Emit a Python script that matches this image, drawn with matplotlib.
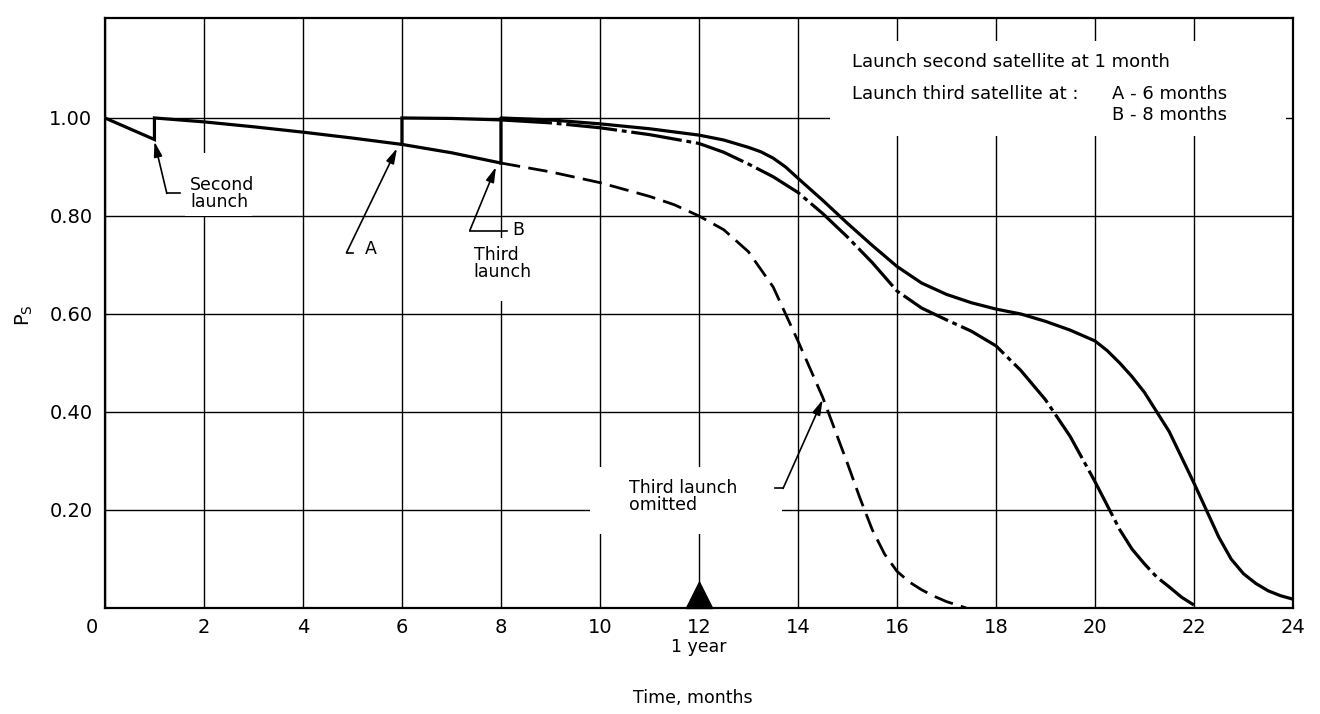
import matplotlib.pyplot as plt
from matplotlib.patches import Rectangle
from matplotlib.transforms import ScaledTranslation

plt.rcParams['font.family'] = ['DejaVu Sans']

# -----------------------------
# Values (time in months, P_S)
# -----------------------------
# one satellite, second launched at 1 month (vertical step at 1)
base_t = [0, 1, 1, 2, 3, 4, 5, 6, 7, 8]
base_p = [1.00, 0.956, 1.00, 0.992, 0.982, 0.971, 0.959, 0.946, 0.929, 0.908]

# third launch omitted
omit_t = [8, 9, 10, 11, 11.5, 12, 12.5, 13, 13.5, 14, 14.5, 15, 15.25, 15.5,
          15.75, 16, 16.25, 16.5, 16.75, 17, 17.4]
omit_p = [0.908, 0.89, 0.868, 0.84, 0.823, 0.80, 0.772, 0.727, 0.655, 0.545,
          0.43, 0.295, 0.225, 0.16, 0.11, 0.075, 0.053, 0.037, 0.024, 0.013, 0.0]

# A - third satellite at 6 months
a_t = [6, 6, 7, 8, 9, 10, 11, 12, 12.5, 13, 13.5, 14, 14.5, 15, 15.5, 16, 16.5,
       17, 17.5, 18, 18.5, 19, 19.5, 20, 20.5, 20.75, 21, 21.25, 21.5, 21.75, 22]
a_p = [0.946, 1.00, 0.999, 0.996, 0.99, 0.98, 0.966, 0.948, 0.93, 0.906, 0.88,
       0.848, 0.805, 0.757, 0.705, 0.647, 0.612, 0.588, 0.565, 0.535, 0.485,
       0.425, 0.35, 0.258, 0.16, 0.12, 0.09, 0.063, 0.043, 0.022, 0.006]

# B - third satellite at 8 months
b_t = [8, 8, 9, 10, 11, 12, 12.5, 13, 13.25, 13.5, 13.75, 14, 14.5, 15, 15.5,
       16, 16.5, 17, 17.5, 18, 18.5, 19, 19.5, 20, 20.25, 20.5, 20.75, 21, 21.5,
       22, 22.25, 22.5, 22.75, 23, 23.25, 23.5, 23.75, 24]
b_p = [0.908, 1.00, 0.996, 0.988, 0.978, 0.965, 0.955, 0.94, 0.931, 0.918, 0.9,
       0.877, 0.832, 0.785, 0.74, 0.697, 0.663, 0.64, 0.623, 0.61, 0.6, 0.585,
       0.567, 0.545, 0.525, 0.5, 0.472, 0.44, 0.36, 0.255, 0.2, 0.145, 0.1,
       0.07, 0.05, 0.035, 0.025, 0.018]

year_mark = 12
x_ticks = list(range(0, 25, 2))
y_ticks = [0.20, 0.40, 0.60, 0.80, 1.00]

# -----------------------------
# Figure
# -----------------------------
fig = plt.figure(figsize=(13.2, 7.14), dpi=100)
ax = fig.add_axes([0.0795, 0.1485, 0.9, 0.8263])
ax.set_xlim(0, 24)
ax.set_ylim(0, 1.204)

ax.set_xticks(x_ticks)
ax.set_yticks(y_ticks)
ax.set_yticklabels(['%.2f' % v for v in y_ticks])
ax.tick_params(length=0, labelsize=14)
ax.tick_params(axis='x', pad=7)
ax.tick_params(axis='y', pad=9)
ax.set_axisbelow(True)
ax.grid(True, color='black', lw=1.0)
for s in ax.spines.values():
    s.set_linewidth(1.6)

# push the "0" label a bit left like the original
lab0 = ax.get_xticklabels()[0]
lab0.set_transform(lab0.get_transform() + ScaledTranslation(-0.13, 0, fig.dpi_scale_trans))

# white patches where the grid is interrupted by lettering
for (x0, y0, w, h) in [(14.65, 0.963, 9.2, 0.194),
                       (9.8, 0.15, 3.88, 0.138),
                       (1.62, 0.80, 1.35, 0.128),
                       (7.3, 0.627, 1.5, 0.128)]:
    ax.add_patch(Rectangle((x0, y0), w, h, facecolor='white', edgecolor='none', zorder=1))

lw = 2.3
ax.plot(base_t, base_p, color='black', lw=lw, solid_joinstyle='miter', zorder=3)
ax.plot(omit_t, omit_p, color='black', lw=2.0, linestyle=(0, (7, 3)), zorder=3)
ia = a_t.index(8)
ax.plot(a_t[:ia + 1], a_p[:ia + 1], color='black', lw=lw, solid_joinstyle='miter', zorder=3)
ax.plot(a_t[ia:], a_p[ia:], color='black', lw=lw, linestyle=(0, (16, 1.5, 1.5, 1.5)),
        solid_joinstyle='round', zorder=3)
ax.plot(b_t, b_p, color='black', lw=lw, solid_joinstyle='round', zorder=3)

# one year marker
ax.plot([year_mark], [0], marker=[(-1, 0), (1, 0), (0, 2), (-1, 0)], ms=38,
        color='black', clip_on=False, zorder=4)
ax.text(year_mark, -0.066, '1 year', transform=ax.get_xaxis_transform(),
        ha='center', va='center', fontsize=12.5)

ax.set_xlabel('Time, months', fontsize=12.5)
ax.xaxis.set_label_coords(0.495, -0.137)
fig.text(24 / 1320, 1 - 315 / 714, r'$\mathregular{P_S}$', rotation=90,
         fontsize=14, ha='center', va='center')

# legend text block
ax.text(15.09, 1.114, 'Launch second satellite at 1 month', fontsize=13, va='center')
ax.text(15.09, 1.049, 'Launch third satellite at :', fontsize=13, va='center')
ax.text(20.34, 1.049, 'A - 6 months', fontsize=13, va='center')
ax.text(20.34, 1.006, 'B - 8 months', fontsize=13, va='center')

# -----------------------------
# Annotations with hooked leaders
# -----------------------------
arrow = dict(arrowstyle='-|>,head_length=0.9,head_width=0.25', color='black',
             lw=1.2, shrinkA=0, shrinkB=0)


def leader(tip, elbow, hook_x):
    ax.annotate('', xy=tip, xytext=elbow, arrowprops=arrow, zorder=4)
    ax.plot([elbow[0], hook_x], [elbow[1], elbow[1]], color='black', lw=1.2, zorder=4)


leader((base_t[1], base_p[1] - 0.004), (1.25, 0.846), 1.52)
ax.text(1.72, 0.846, 'Second\nlaunch', fontsize=12.5, va='center', linespacing=0.95)

leader((a_t[0] - 0.1, a_p[0] - 0.008), (4.88, 0.725), 5.02)
ax.text(5.25, 0.733, 'A', fontsize=12.5, va='center')

leader((b_t[0] - 0.1, b_p[0] - 0.008), (7.37, 0.77), 8.12)
ax.text(8.22, 0.772, 'B', fontsize=12.5, va='center')
ax.text(7.45, 0.703, 'Third\nlaunch', fontsize=12.5, va='center', linespacing=0.95)

i15 = omit_t.index(14.5)
leader((omit_t[i15], omit_p[i15] - 0.005), (13.7, 0.244), 13.54)
ax.text(10.59, 0.228, 'Third launch\nomitted', fontsize=12.5, va='center', linespacing=0.95)

fig.savefig('out.png', dpi=100)
